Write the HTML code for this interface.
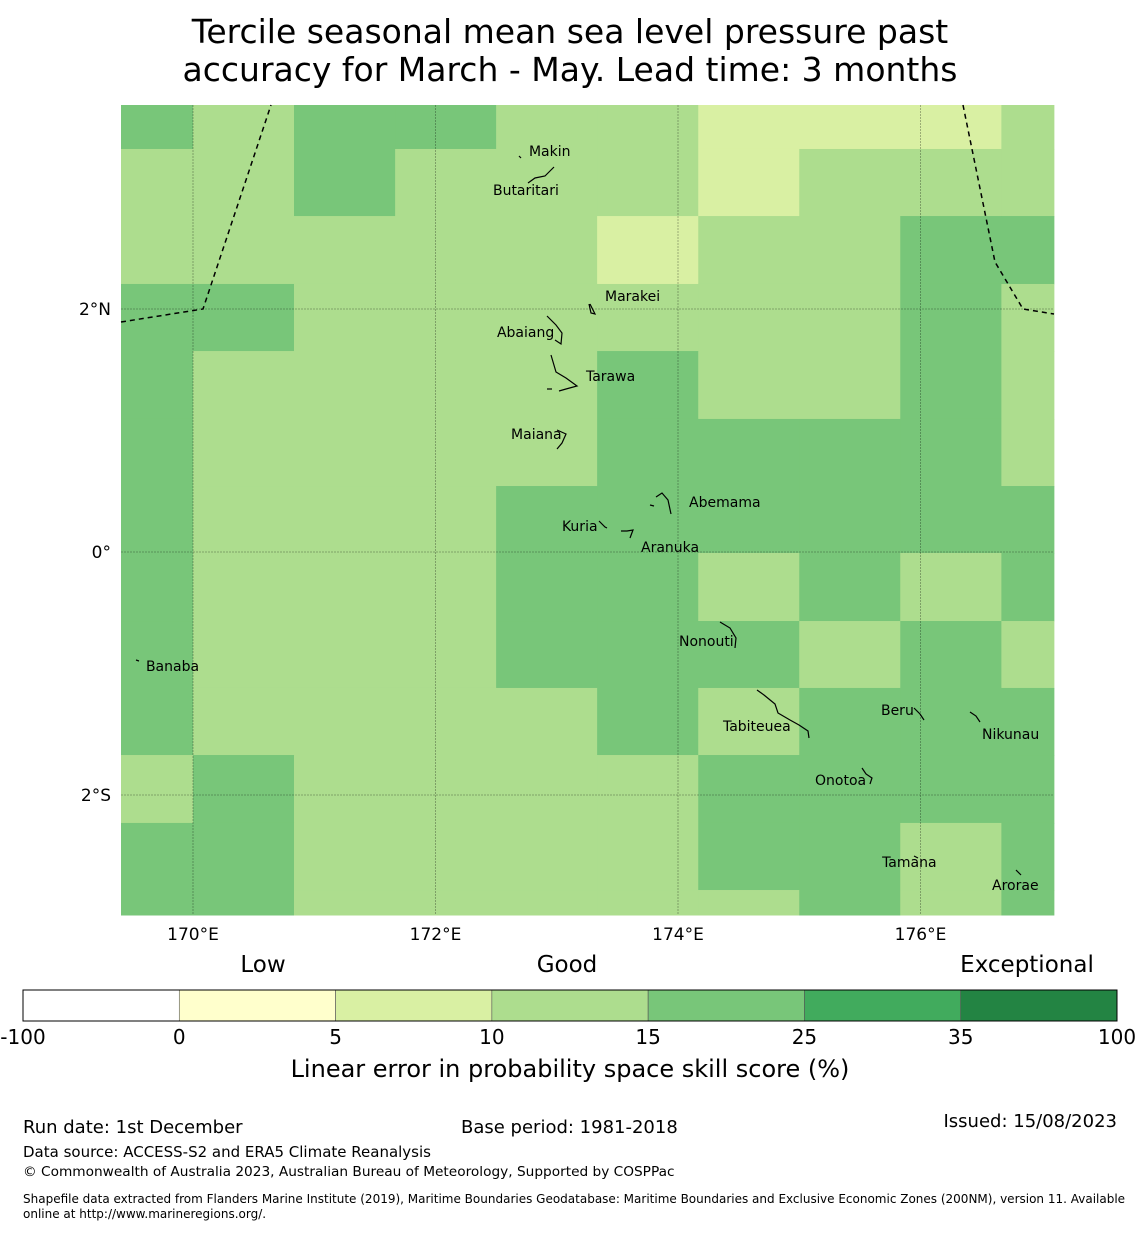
<!DOCTYPE html>
<html><head><meta charset="utf-8">
<style>
body{margin:0;background:#fff;font-family:"Liberation Sans","DejaVu Sans",sans-serif;}
svg text{font-family:"DejaVu Sans","Liberation Sans",sans-serif;}
</style></head>
<body>
<svg id="chart" width="1140" height="1230" viewBox="0 0 1140 1230" xmlns="http://www.w3.org/2000/svg">
<text x="570" y="43" font-size="33" text-anchor="middle">Tercile seasonal mean sea level pressure past</text>
<text x="570" y="81" font-size="33" text-anchor="middle">accuracy for March - May. Lead time: 3 months</text>
<g id="cells"></g>
<g id="grid"></g>
<g fill="none" stroke="#000" stroke-width="1.5" stroke-dasharray="5,4">
<polyline points="121,322 203,309 271,105"/>
<polyline points="963,105 995,262 1023,309 1054,314"/>
</g>
<g fill="none" stroke="#000" stroke-width="1.2">
<path d="M528,183 L535,178 L545,176 L554,167" /><path d="M519,156 L521,158"/>
<path d="M589,304 L591,313 L595,314 L590,304"/>
<path d="M547,316 L556,325 L562,333 L561,344 L555,340"/>
<path d="M551,355 L556,372 L566,378 L577,386 L566,389 L559,391"/><path d="M547,389 L552,389"/>
<path d="M557,430 L566,434 L562,443 L557,449"/>
<path d="M656,497 L662,493 L668,500 L671,514"/><path d="M650,505 L654,506"/>
<path d="M599,521 L605,527 L607,528"/><path d="M621,531 L627,531 L633,530 L630,538"/>
<path d="M720,622 L730,628 L736,638 L735,648"/>
<path d="M136,660 L139,661"/>
<path d="M757,690 L764,695 L775,704 L778,713 L790,720 L799,725 L808,731 L809,738"/>
<path d="M914,708 L920,714 L924,720"/>
<path d="M970,712 L976,716 L980,722"/>
<path d="M862,768 L866,774 L872,778 L870,784"/>
<path d="M914,856 L918,858"/><path d="M1016,870 L1021,875"/>
</g>
<g id="islands" font-size="14"></g>
<g id="axes" font-size="17"></g>
<g id="cbar"></g>
<text x="263" y="972" font-size="23" text-anchor="middle">Low</text>
<text x="567" y="972" font-size="23" text-anchor="middle">Good</text>
<text x="1027" y="972" font-size="23" text-anchor="middle">Exceptional</text>
<text x="570" y="1077" font-size="24" text-anchor="middle">Linear error in probability space skill score (%)</text>
<text x="23" y="1133" font-size="18">Run date: 1st December</text>
<text x="461" y="1133" font-size="18">Base period: 1981-2018</text>
<text x="1117" y="1127" font-size="18" text-anchor="end">Issued: 15/08/2023</text>
<text x="23" y="1157" font-size="15">Data source: ACCESS-S2 and ERA5 Climate Reanalysis</text>
<text x="23" y="1176" font-size="13.7">© Commonwealth of Australia 2023, Australian Bureau of Meteorology, Supported by COSPPac</text>
<text x="23" y="1203" font-size="12">Shapefile data extracted from Flanders Marine Institute (2019), Maritime Boundaries Geodatabase: Maritime Boundaries and Exclusive Economic Zones (200NM), version 11. Available</text>
<text x="23" y="1218" font-size="12">online at http://www.marineregions.org/.</text>
</svg>
<script>
const colors=["#ffffff","#ffffcc","#d9f0a3","#addd8e","#78c679","#41ab5d","#238443"];
const bounds=["-100","0","5","10","15","25","35","100"];
const colEdges=[169.4,170.0,170.833,171.667,172.5,173.333,174.167,175.0,175.833,176.667,177.1];
const rowEdges=[3.7,3.317,2.765,2.206,1.654,1.095,0.543,-0.008,-0.568,-1.119,-1.671,-2.23,-2.782,-3.0];
const gridVals=[
[4,3,4,4,3,3,2,2,2,3],
[3,3,4,3,3,3,2,3,3,3],
[3,3,3,3,3,2,3,3,4,4],
[4,4,3,3,3,3,3,3,4,3],
[4,3,3,3,3,4,3,3,4,3],
[4,3,3,3,3,4,4,4,4,3],
[4,3,3,3,4,4,4,4,4,4],
[4,3,3,3,4,4,3,4,3,4],
[4,3,3,3,4,4,4,3,4,3],
[4,3,3,3,3,4,3,4,4,4],
[3,4,3,3,3,3,4,4,4,4],
[4,4,3,3,3,3,4,4,3,4],
[4,4,3,3,3,3,3,4,3,4]];
const lonTicks=[170,172,174,176];
const lonLabels=["170°E","172°E","174°E","176°E"];
const latTicks=[2,0,-2];
const latLabels=["2°N","0°","2°S"];
const islandNames=["Makin","Butaritari","Marakei","Abaiang","Tarawa","Maiana","Abemama","Kuria","Aranuka","Nonouti","Banaba","Tabiteuea","Beru","Nikunau","Onotoa","Tamana","Arorae"];
const islandLon=[172.771,172.474,173.398,172.507,173.241,172.623,174.091,173.043,173.695,174.008,169.612,174.371,175.674,176.507,175.13,175.683,176.59];
const islandLat=[3.26,2.94,2.066,1.77,1.407,0.93,0.37,0.173,0.0,-0.774,-0.979,-1.473,-1.342,-1.539,-1.918,-2.593,-2.782];
const NS="http://www.w3.org/2000/svg";
const X=lon=>193+(lon-170)*121.25;
const Y=lat=>552-lat*121.5;
const x0=121,x1=1054,y0=105,y1=915;
function mk(t,a,p){const e=document.createElementNS(NS,t);for(const k in a)e.setAttribute(k,a[k]);p.appendChild(e);return e;}
const cells=document.getElementById('cells');
gridVals.forEach((row,r)=>row.forEach((v,c)=>{
 const xa=Math.max(x0,X(colEdges[c])),xb=Math.min(x1,X(colEdges[c+1]));
 const ya=Math.max(y0,Y(rowEdges[r])),yb=Math.min(y1,Y(rowEdges[r+1]));
 const e=mk('rect',{x:xa,y:ya,width:Math.max(0,xb-xa+0.5),height:Math.max(0,yb-ya+0.5),fill:colors[v]},cells);
 
 
}));
const grid=document.getElementById('grid');
lonTicks.forEach(l=>{const e=mk('line',{x1:X(l),x2:X(l),y1:y0,y2:y1,stroke:'rgba(0,0,0,0.35)','stroke-width':0.8,'stroke-dasharray':'2,1'},grid);
 
 });
latTicks.forEach(l=>{const e=mk('line',{x1:x0,x2:x1,y1:Y(l),y2:Y(l),stroke:'rgba(0,0,0,0.35)','stroke-width':0.8,'stroke-dasharray':'2,1'},grid);
 
 });
const axes=document.getElementById('axes');
lonTicks.forEach((l,i)=>{const e=mk('text',{x:X(l),y:940,'text-anchor':'middle'},axes);e.textContent=lonLabels[i];
 
 });
latTicks.forEach((l,i)=>{const e=mk('text',{x:111,y:Y(l)+6,'text-anchor':'end'},axes);e.textContent=latLabels[i];
 
 });
const isl=document.getElementById('islands');
islandNames.forEach((n,i)=>{const e=mk('text',{x:X(islandLon[i]),y:Y(islandLat[i])},isl);e.textContent=n;
 
 });
const cb=document.getElementById('cbar');
const cbx0=23,cbx1=1117,w=(cbx1-cbx0)/colors.length;
colors.forEach((c,i)=>{const e=mk('rect',{x:cbx0+i*w,y:990,width:w,height:31,fill:c,stroke:'#555','stroke-width':0.6},cb);
 
 });
mk('rect',{x:cbx0,y:990,width:cbx1-cbx0,height:31,fill:'none',stroke:'#000','stroke-width':1},cb);
bounds.forEach((b,i)=>{const e=mk('text',{x:cbx0+i*w,y:1044,'font-size':20,'text-anchor':'middle'},cb);e.textContent=b;
 
 });
</script>
</body></html>
